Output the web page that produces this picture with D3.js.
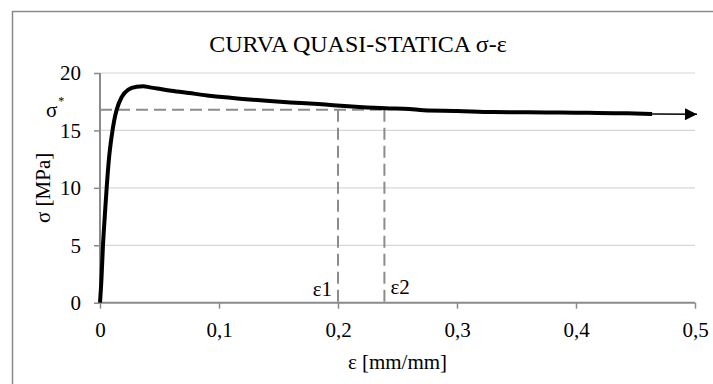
<!DOCTYPE html>
<html>
<head>
<meta charset="utf-8">
<script src="https://cdn.jsdelivr.net/npm/d3@7"></script>
<style>
  body { margin: 0; background: #fff; }
  svg text { font-family: "Times New Roman", "Liberation Serif", "DejaVu Serif", serif !important; fill: #000; }
</style>
</head>
<body>
<div id="chart"></div>
<script>
// curve: strain [mm/mm], stress [MPa]
var strain = [0, 0.0012, 0.0025, 0.004, 0.0056, 0.0075, 0.0098, 0.012, 0.014, 0.0182, 0.0238, 0.0308, 0.0364, 0.042, 0.048, 0.06, 0.075, 0.09, 0.105, 0.12, 0.14, 0.16, 0.18, 0.196, 0.218, 0.24, 0.26, 0.272, 0.3, 0.33, 0.36, 0.387, 0.41, 0.443, 0.464]
var stress = [0, 2, 5, 7.5, 10, 12.5, 14.5, 15.9, 16.8, 17.9, 18.55, 18.8, 18.85, 18.75, 18.65, 18.45, 18.25, 18.05, 17.88, 17.74, 17.58, 17.44, 17.32, 17.2, 17.05, 16.93, 16.86, 16.76, 16.7, 16.6, 16.58, 16.55, 16.53, 16.49, 16.43]

var arrowEnd = [0.5, 16.4]
var sigmaStar = 16.8
var eps1 = 0.2
var eps2 = 0.239

var xTicks = [0, 0.1, 0.2, 0.3, 0.4, 0.5]
var yTicks = [0, 5, 10, 15, 20]

var width = 713
var height = 384
var margin = { top: 73, left: 100, right: 18, bottom: 81.3 }
var serif = '"Times New Roman", "Liberation Serif", "DejaVu Serif", serif'

var svg = d3.select('#chart')
  .append('svg')
  .attr('width', width)
  .attr('height', height)

// outer frame (cropped on right / bottom)
svg.append('rect')
  .attr('x', 12.5)
  .attr('y', 11.5)
  .attr('width', 760)
  .attr('height', 420)
  .attr('fill', 'none')
  .attr('stroke', '#8a8a8a')
  .attr('stroke-width', 1.5)

var xScale = d3.scaleLinear().domain([0, 0.5]).range([margin.left, width - margin.right])
var yScale = d3.scaleLinear().domain([0, 20]).range([height - margin.bottom, margin.top])

// gridlines
svg.selectAll('.grid')
  .data(yTicks.filter(d => d > 0))
  .enter()
  .append('line')
  .attr('class', 'grid')
  .attr('x1', xScale(0))
  .attr('x2', xScale(0.5))
  .attr('y1', d => yScale(d))
  .attr('y2', d => yScale(d))
  .attr('stroke', '#d6d6d6')
  .attr('stroke-width', 1.2)

// axes
var xAxis = d3.axisBottom(xScale)
  .tickValues(xTicks)
  .tickSize(6)
  .tickFormat(d => d3.format('.1f')(d).replace('.', ',').replace(/^0,0$/, '0'))

var yAxis = d3.axisLeft(yScale)
  .tickValues(yTicks)
  .tickSize(6)
  .tickFormat(d3.format('d'))

var gx = svg.append('g')
  .attr('transform', `translate(0,${yScale(0)})`)
  .call(xAxis)

var gy = svg.append('g')
  .attr('transform', `translate(${xScale(0)},0)`)
  .call(yAxis)

;[gx, gy].forEach(function(g) {
  g.attr('font-family', serif).attr('font-size', 21)
  g.select('.domain').remove()
  g.selectAll('.tick line').attr('stroke', '#8a8a8a').attr('stroke-width', 1.5)
  g.selectAll('.tick text').attr('fill', '#000')
})
gx.selectAll('.tick text').attr('dy', null).attr('y', 34)
gy.selectAll('.tick text').attr('x', -19).attr('dy', '0.33em')

// reference lines
var dashColor = '#8c8c8c'
svg.append('line')
  .attr('x1', xScale(0)).attr('x2', xScale(eps2))
  .attr('y1', yScale(sigmaStar)).attr('y2', yScale(sigmaStar))
  .attr('stroke', dashColor).attr('stroke-width', 2).attr('stroke-dasharray', '12,6')

svg.selectAll('.eps-line')
  .data([eps1, eps2])
  .enter()
  .append('line')
  .attr('class', 'eps-line')
  .attr('x1', d => xScale(d)).attr('x2', d => xScale(d))
  .attr('y1', yScale(sigmaStar)).attr('y2', yScale(0))
  .attr('stroke', dashColor).attr('stroke-width', 2).attr('stroke-dasharray', '12,6')

// axis lines on top of dashes
svg.append('line')
  .attr('x1', xScale(0)).attr('x2', xScale(0.5))
  .attr('y1', yScale(0)).attr('y2', yScale(0))
  .attr('stroke', '#8a8a8a').attr('stroke-width', 2)
svg.append('line')
  .attr('x1', xScale(0)).attr('x2', xScale(0))
  .attr('y1', yScale(0)).attr('y2', yScale(20))
  .attr('stroke', '#8a8a8a').attr('stroke-width', 2)

// arrow
svg.append('defs')
  .append('marker')
  .attr('id', 'arrow')
  .attr('viewBox', '0 0 10 10')
  .attr('refX', 10)
  .attr('refY', 5)
  .attr('markerWidth', 14)
  .attr('markerHeight', 12)
  .attr('markerUnits', 'userSpaceOnUse')
  .attr('orient', 'auto')
  .append('path')
  .attr('d', 'M0,0 L10,5 L0,10 z')
  .attr('fill', '#000')

var last = strain.length - 1
svg.append('line')
  .attr('x1', xScale(strain[last])).attr('y1', yScale(stress[last]))
  .attr('x2', xScale(arrowEnd[0]) + 2).attr('y2', yScale(arrowEnd[1]))
  .attr('stroke', '#000').attr('stroke-width', 1.5)
  .attr('marker-end', 'url(#arrow)')

// curve
var points = strain.map((d, i) => [d, stress[i]])
var line = d3.line()
  .x(d => xScale(d[0]))
  .y(d => yScale(d[1]))
  .curve(d3.curveMonotoneX)

svg.append('path')
  .datum(points)
  .attr('d', line)
  .attr('fill', 'none')
  .attr('stroke', '#000')
  .attr('stroke-width', 4)
  .attr('stroke-linejoin', 'round')

// labels
function label(x, y, size, txt, anchor) {
  return svg.append('text')
    .attr('x', x)
    .attr('y', y)
    .attr('text-anchor', anchor || 'start')
    .attr('font-family', serif)
    .attr('font-size', size)
    .text(txt)
}

label(358, 52, 24, 'CURVA QUASI-STATICA σ-ε', 'middle')
label((xScale(0) + xScale(0.5)) / 2, 369, 21, 'ε [mm/mm]', 'middle')

svg.append('text')
  .attr('transform', `translate(50,${(yScale(0) + yScale(20)) / 2}) rotate(-90)`)
  .attr('text-anchor', 'middle')
  .attr('font-family', serif)
  .attr('font-size', 21)
  .text('σ [MPa]')

var star = label(46, 117, 21, '')
star.append('tspan').text('σ')
star.append('tspan')
  .attr('dx', 1)
  .attr('dy', -12)
  .attr('font-size', 12)
  .text('*')

label(xScale(eps1) - 6, 296, 21, 'ε1', 'end')
label(xScale(eps2) + 6, 294, 21, 'ε2')
</script>
</body>
</html>
